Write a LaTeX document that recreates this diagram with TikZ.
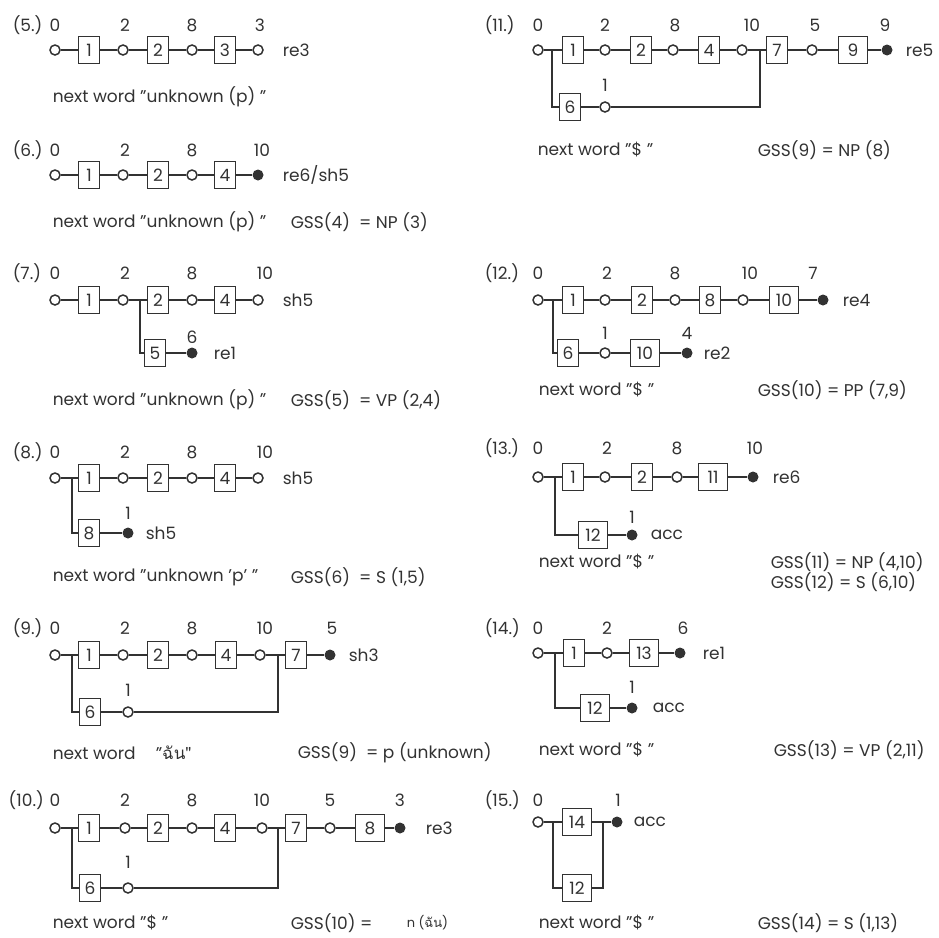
\documentclass[tikz,border=0pt]{standalone}
\usepackage{fontspec}
\setmainfont{Poppins}
\newfontfamily\thaifont[Script=Thai]{Loma}
\usepackage{tikz}
\usetikzlibrary{calc}

\definecolor{ink}{RGB}{50,50,50}

\tikzset{
    st/.style={circle,draw=ink,line width=1.5pt,minimum size=10pt,inner sep=0pt},
    fin/.style={circle,fill=ink,minimum size=11pt,inner sep=0pt},
    sym/.style={draw=ink,line width=1.7pt,minimum width=21pt,minimum height=27pt,inner sep=0pt},
    wide/.style={sym,minimum width=29pt},
    num/.style={inner sep=0pt},
    txt/.style={anchor=west,inner sep=0pt}
}

\begin{document}
\begin{tikzpicture}[x=1pt,y=-1pt,line width=1.5pt,draw=ink,text=ink,
    every node/.append style={font=\fontsize{17}{19}\selectfont}]

\useasboundingbox (0,0) rectangle (939,937);

% (5.)
\node[txt] (t5) at (12,25) {(5.)};
\foreach \x/\t in {55/0,125/2,192/8,260/3} \node[num] (h5-\t) at (\x,25) {\t};
\node[st] (s50) at (55,50) {};
\node[sym] (b51) at (89,50) {1};
\node[st] (s52) at (123,50) {};
\node[sym] (b52) at (158,50) {2};
\node[st] (s58) at (192,50) {};
\node[sym] (b53) at (225,50) {3};
\node[st] (s53) at (258,50) {};
\node[txt] (r5) at (282,50) {re3};
\draw (s50) -- (b51) -- (s52) -- (b52) -- (s58) -- (b53) -- (s53);
\node[txt] (w5) at (52,97) {next word "unknown (p) "};

% (6.)
\node[txt] (t6) at (12,150) {(6.)};
\foreach \x/\t in {55/0,125/2,192/8,262/10} \node[num] (h6-\t) at (\x,150) {\t};
\node[st] (s60) at (55,175) {};
\node[sym] (b61) at (89,175) {1};
\node[st] (s62) at (123,175) {};
\node[sym] (b62) at (158,175) {2};
\node[st] (s68) at (192,175) {};
\node[sym] (b64) at (225,175) {4};
\node[fin] (f6) at (258,175) {};
\node[txt] (r6) at (282,175) {re6/sh5};
\draw (s60) -- (b61) -- (s62) -- (b62) -- (s68) -- (b64) -- (f6);
\node[txt] (w6) at (52,222) {next word "unknown (p) "};
\node[txt] (g6) at (290,222) {GSS(4)\ \ = NP (3)};

% (7.)
\node[txt] (t7) at (12,273) {(7.)};
\foreach \x/\t in {55/0,125/2,192/8,265/10} \node[num] (h7-\t) at (\x,273) {\t};
\node[st] (s70) at (55,300) {};
\node[sym] (b71) at (89,300) {1};
\node[st] (s72) at (123,300) {};
\node[sym] (b72) at (158,300) {2};
\node[st] (s78) at (192,300) {};
\node[sym] (b74) at (225,300) {4};
\node[st] (s710) at (258,300) {};
\node[txt] (r7) at (282,300) {sh5};
\coordinate (j7) at (140,300);
\draw (s70) -- (b71) -- (s72) -- (b72) -- (s78) -- (b74) -- (s710);
\node[sym] (b75) at (155,353) {5};
\node[fin] (f7) at (192,353) {};
\node[num] (h7-6) at (192,337) {6};
\node[txt] (r7b) at (213,353) {re1};
\draw (j7) |- (b75);
\draw (b75) -- (f7);
\node[txt] (w7) at (52,400) {next word "unknown (p) "};
\node[txt] (g7) at (290,400) {GSS(5)\ \ = VP (2,4)};

% (8.)
\node[txt] (t8) at (12,452) {(8.)};
\foreach \x/\t in {55/0,125/2,192/8,265/10} \node[num] (h8-\t) at (\x,452) {\t};
\node[st] (s80) at (55,478) {};
\node[sym] (b81) at (89,478) {1};
\node[st] (s82) at (123,478) {};
\node[sym] (b82) at (158,478) {2};
\node[st] (s88) at (192,478) {};
\node[sym] (b84) at (225,478) {4};
\node[st] (s810) at (258,478) {};
\node[txt] (r8) at (282,478) {sh5};
\coordinate (j8) at (72,478);
\draw (s80) -- (b81) -- (s82) -- (b82) -- (s88) -- (b84) -- (s810);
\node[sym] (b88) at (89,533) {8};
\node[fin] (f8) at (128,533) {};
\node[num] (h8-1) at (128,513) {1};
\node[txt] (r8b) at (145,533) {sh5};
\draw (j8) |- (b88);
\draw (b88) -- (f8);
\node[txt] (w8) at (52,577) {next word "unknown 'p' "};
\node[txt] (g8) at (290,577) {GSS(6)\ \ = S (1,5)};

% (9.)
\node[txt] (t9) at (12,628) {(9.)};
\foreach \x/\t in {55/0,125/2,192/8,265/10,332/5} \node[num] (h9-\t) at (\x,628) {\t};
\node[st] (s90) at (55,655) {};
\node[sym] (b91) at (89,655) {1};
\node[st] (s92) at (123,655) {};
\node[sym] (b92) at (158,655) {2};
\node[st] (s98) at (192,655) {};
\node[sym] (b94) at (226,655) {4};
\node[st] (s910) at (260,655) {};
\node[sym] (b97) at (296,655) {7};
\node[fin] (f9) at (330,655) {};
\node[txt] (r9) at (348,655) {sh3};
\coordinate (j9a) at (72,655);
\coordinate (j9b) at (278,655);
\draw (s90) -- (b91) -- (s92) -- (b92) -- (s98) -- (b94) -- (s910) -- (b97) -- (f9);
\node[sym] (b96) at (90,712) {6};
\node[st] (s91) at (128,712) {};
\node[num] (h9-1) at (128,690) {1};
\draw (j9a) |- (b96);
\draw (b96) -- (s91) -| (j9b);
\node[txt] (w9) at (52,753) {next word};
\node[txt] (q9) at (155,753) {"\thaifont ฉัน"};
\node[txt] (g9) at (297,753) {GSS(9)\ \ = p (unknown)};

% (10.)
\node[txt] (t10) at (8,800) {(10.)};
\foreach \x/\t in {55/0,125/2,192/8,262/10,330/5,400/3} \node[num] (h10-\t) at (\x,800) {\t};
\node[st] (s100) at (55,828) {};
\node[sym] (b101) at (89,828) {1};
\node[st] (s102) at (125,828) {};
\node[sym] (b102) at (158,828) {2};
\node[st] (s108) at (192,828) {};
\node[sym] (b104) at (225,828) {4};
\node[st] (s1010) at (262,828) {};
\node[sym] (b107) at (296,828) {7};
\node[st] (s105) at (330,828) {};
\node[wide] (b108) at (370,828) {8};
\node[fin] (f10) at (400,828) {};
\node[txt] (r10) at (425,828) {re3};
\coordinate (j10a) at (72,828);
\coordinate (j10b) at (278,828);
\draw (s100) -- (b101) -- (s102) -- (b102) -- (s108) -- (b104) -- (s1010) -- (b107) -- (s105) -- (b108) -- (f10);
\node[sym] (b106) at (90,888) {6};
\node[st] (s101) at (128,888) {};
\node[num] (h10-1) at (128,862) {1};
\draw (j10a) |- (b106);
\draw (b106) -- (s101) -| (j10b);
\node[txt] (w10) at (52,923) {next word "\$ "};
\node[txt] (g10) at (290,923) {GSS(10) =};
\node[txt] (n10) at (406,923) {\fontsize{13}{15}\selectfont n ({\thaifont ฉัน})};

% (11.)
\node[txt] (t11) at (484,25) {(11.)};
\foreach \x/\t in {538/0,605/2,675/8,752/10,815/5,885/9} \node[num] (h11-\t) at (\x,25) {\t};
\node[st] (s110) at (538,50) {};
\node[sym] (b111) at (573,50) {1};
\node[st] (s112) at (605,50) {};
\node[sym] (b112) at (641,50) {2};
\node[st] (s118) at (673,50) {};
\node[sym] (b114) at (709,50) {4};
\node[st] (s1110) at (742,50) {};
\node[sym] (b117) at (777,50) {7};
\node[st] (s115) at (812,50) {};
\node[wide] (b119) at (853,50) {9};
\node[fin] (f11) at (887,50) {};
\node[txt] (r11) at (905,50) {re5};
\coordinate (j11a) at (552,50);
\coordinate (j11b) at (760,50);
\draw (s110) -- (b111) -- (s112) -- (b112) -- (s118) -- (b114) -- (s1110) -- (b117) -- (s115) -- (b119) -- (f11);
\node[sym] (b116) at (570,107) {6};
\node[st] (s111) at (605,107) {};
\node[num] (h11-1) at (605,85) {1};
\draw (j11a) |- (b116);
\draw (b116) -- (s111) -| (j11b);
\node[txt] (w11) at (537,150) {next word "\$ "};
\node[txt] (g11) at (757,150) {GSS(9) = NP (8)};

% (12.)
\node[txt] (t12) at (484,273) {(12.)};
\foreach \x/\t in {538/0,607/2,675/8,750/10,813/7} \node[num] (h12-\t) at (\x,273) {\t};
\node[st] (s120) at (538,300) {};
\node[sym] (b121) at (573,300) {1};
\node[st] (s122) at (605,300) {};
\node[sym] (b122) at (642,300) {2};
\node[st] (s128) at (675,300) {};
\node[sym] (b128) at (710,300) {8};
\node[st] (s1210) at (743,300) {};
\node[wide] (b1210) at (784,300) {10};
\node[fin] (f12) at (823,300) {};
\node[txt] (r12) at (842,300) {re4};
\coordinate (j12) at (553,300);
\draw (s120) -- (b121) -- (s122) -- (b122) -- (s128) -- (b128) -- (s1210) -- (b1210) -- (f12);
\node[sym] (b126) at (568,353) {6};
\node[st] (s121) at (605,353) {};
\node[num] (h12-1) at (605,333) {1};
\node[wide] (b1210b) at (645,353) {10};
\node[fin] (f12b) at (687,353) {};
\node[num] (h12-4) at (687,333) {4};
\node[txt] (r12b) at (703,353) {re2};
\draw (j12) |- (b126);
\draw (b126) -- (s121) -- (b1210b) -- (f12b);
\node[txt] (w12) at (538,390) {next word "\$ "};
\node[txt] (g12) at (757,390) {GSS(10) = PP (7,9)};

% (13.)
\node[txt] (t13) at (484,448) {(13.)};
\foreach \x/\t in {538/0,607/2,677/8,755/10} \node[num] (h13-\t) at (\x,448) {\t};
\node[st] (s130) at (538,477) {};
\node[sym] (b131) at (573,477) {1};
\node[st] (s132) at (605,477) {};
\node[sym] (b132) at (642,477) {2};
\node[st] (s138) at (677,477) {};
\node[wide] (b1311) at (713,477) {11};
\node[fin] (f13) at (753,477) {};
\node[txt] (r13) at (772,477) {re6};
\coordinate (j13) at (555,477);
\draw (s130) -- (b131) -- (s132) -- (b132) -- (s138) -- (b1311) -- (f13);
\node[wide] (b1312) at (593,535) {12};
\node[fin] (f13b) at (632,535) {};
\node[num] (h13-1) at (632,517) {1};
\node[txt] (a13) at (650,535) {acc};
\draw (j13) |- (b1312);
\draw (b1312) -- (f13b);
\node[txt] (w13) at (538,562) {next word "\$ "};
\node[txt] (g13a) at (770,562) {GSS(11) = NP (4,10)};
\node[txt] (g13b) at (770,582) {GSS(12) = S (6,10)};

% (14.)
\node[txt] (t14) at (484,628) {(14.)};
\foreach \x/\t in {538/0,607/2,683/6} \node[num] (h14-\t) at (\x,628) {\t};
\node[st] (s140) at (538,653) {};
\node[sym] (b141) at (574,653) {1};
\node[st] (s142) at (607,653) {};
\node[wide] (b1413) at (644,653) {13};
\node[fin] (f14) at (680,653) {};
\node[txt] (r14) at (702,653) {re1};
\coordinate (j14) at (555,653);
\draw (s140) -- (b141) -- (s142) -- (b1413) -- (f14);
\node[wide] (b1412) at (595,708) {12};
\node[fin] (f14b) at (632,708) {};
\node[num] (h14-1) at (632,687) {1};
\node[txt] (a14) at (652,708) {acc};
\draw (j14) |- (b1412);
\draw (b1412) -- (f14b);
\node[txt] (w14) at (538,750) {next word "\$ "};
\node[txt] (g14) at (773,750) {GSS(13) = VP (2,11)};

% (15.)
\node[txt] (t15) at (484,800) {(15.)};
\foreach \x/\t in {538/0,618/1} \node[num] (h15-\t) at (\x,800) {\t};
\node[st] (s150) at (538,822) {};
\node[wide] (b1514) at (577,822) {14};
\node[fin] (f15) at (617,822) {};
\node[txt] (a15) at (633,822) {acc};
\coordinate (j15a) at (553,822);
\coordinate (j15b) at (603,822);
\draw (s150) -- (b1514) -- (f15);
\node[wide] (b1512) at (577,888) {12};
\draw (j15a) |- (b1512) -| (j15b);
\node[txt] (w15) at (538,923) {next word "\$ "};
\node[txt] (g15) at (757,923) {GSS(14) = S (1,13)};

\end{tikzpicture}
\end{document}
